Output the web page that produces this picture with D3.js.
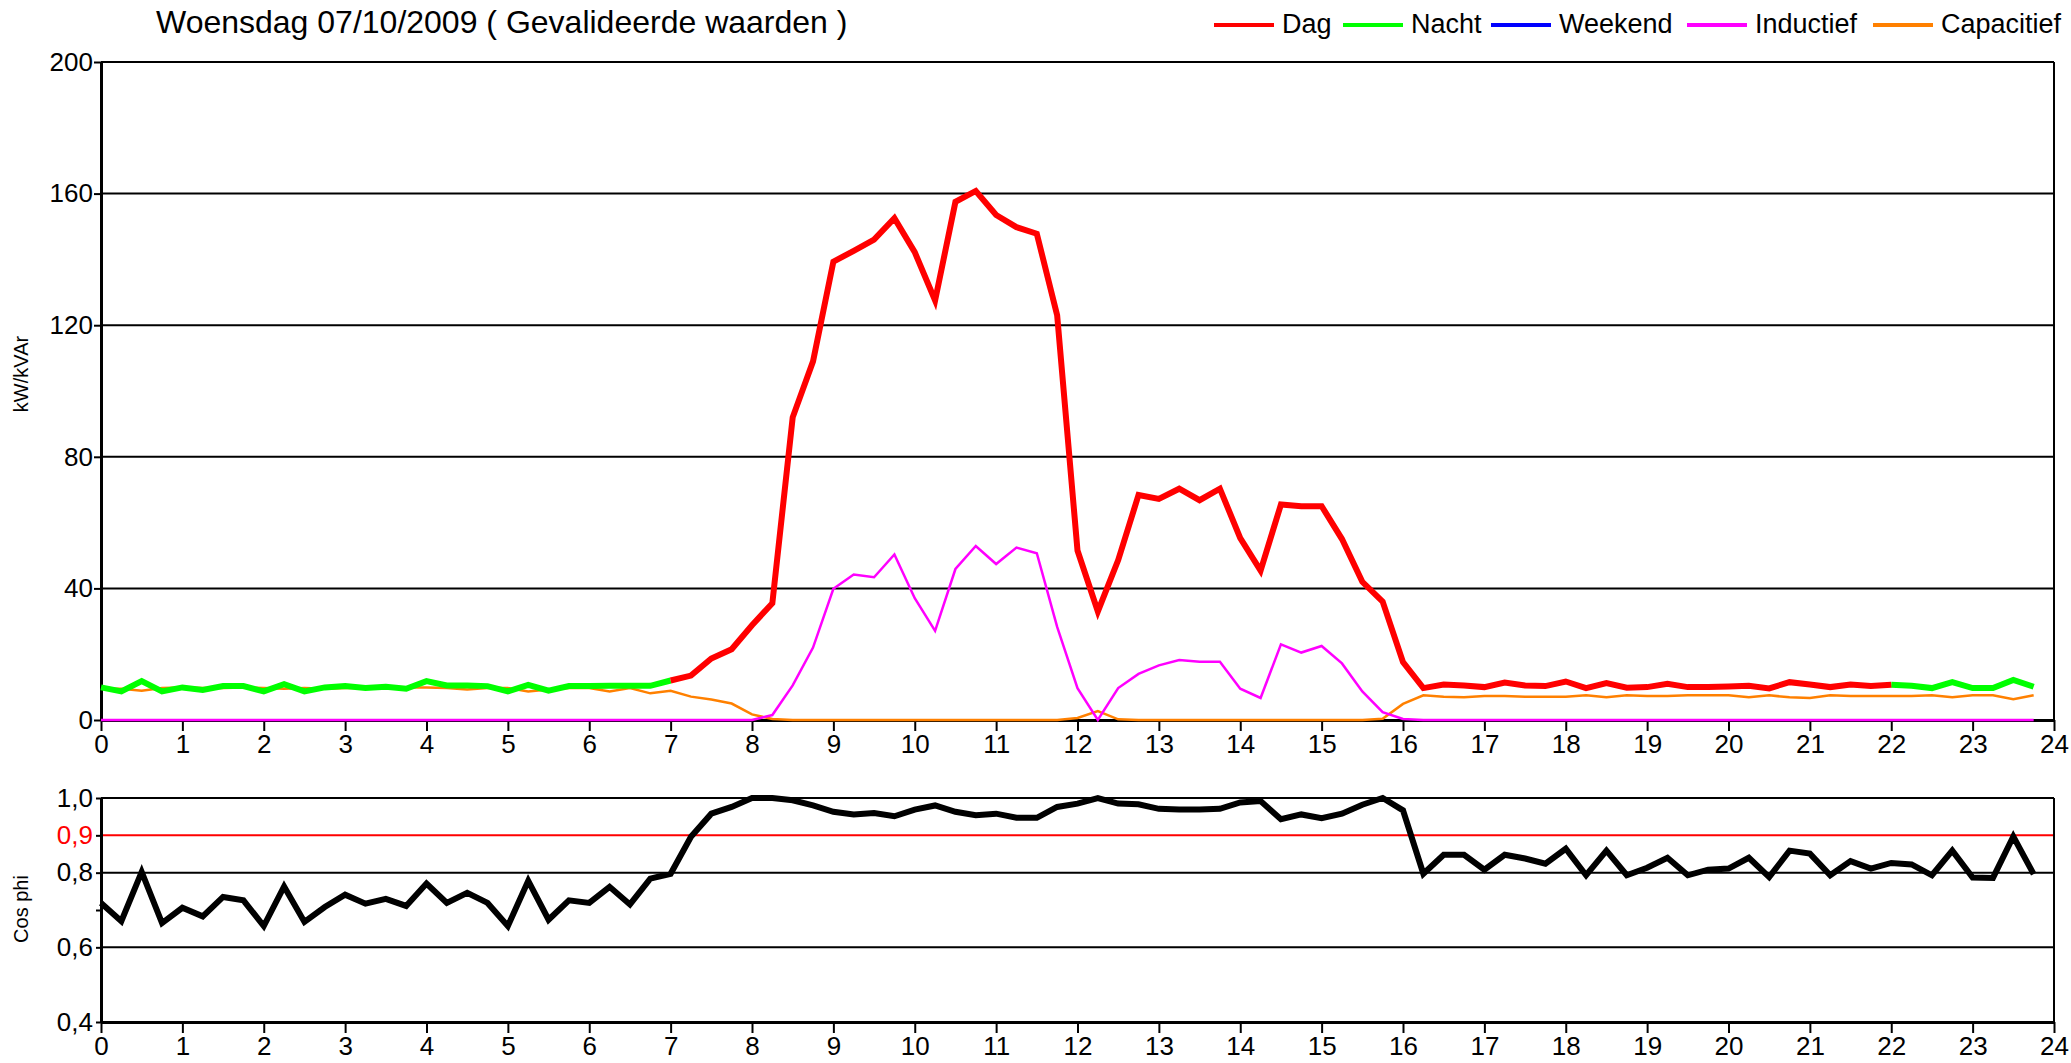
<!DOCTYPE html>
<html>
<head>
<meta charset="utf-8">
<script src="https://cdn.jsdelivr.net/npm/d3@7"></script>
<style>
  body { margin: 0; background: #fff; }
  svg { display: block; font-family: "Liberation Sans", Arial, sans-serif; }
</style>
</head>
<body>
<svg width="2071" height="1063"></svg>
<script>
// Data (one value per quarter hour, 0:00 -> 23:45):
const quarters = d3.range(0, 24, 0.25);
const hourTicks = d3.range(0, 25);
const powerTicks = [0, 40, 80, 120, 160, 200];
const cosTicks = [0.4, 0.6, 0.8, 0.9, 1.0];
const cosTickLabels = ["0,4", "0,6", "0,8", "0,9", "1,0"];

const power = [
  9.9, 8.7, 11.8, 8.7, 9.9, 9.1, 10.3, 10.3, 8.7, 10.9, 8.7, 9.9,
  10.3, 9.7, 10.1, 9.5, 11.8, 10.5, 10.5, 10.3, 8.7, 10.7, 8.9, 10.3,
  10.3, 10.4, 10.4, 10.4, 12.0, 13.5, 18.7, 21.5, 28.8, 35.5, 92, 109,
  139.3, 142.6, 146, 152.5, 142.2, 127.5, 157.5, 160.8, 153.5, 149.8, 147.8, 123,
  51.5, 33, 48.6, 68.4, 67.2, 70.3, 66.8, 70.3, 55.3, 45.4, 65.5, 65,
  65, 55, 42, 36, 17.6, 9.7, 10.8, 10.5, 10, 11.4, 10.5, 10.3,
  11.7, 9.7, 11.2, 9.8, 10, 11, 10, 10, 10.2, 10.4, 9.6, 11.5,
  10.8, 10, 10.8, 10.3, 10.7, 10.4, 9.7, 11.5, 9.7, 9.7, 12.2, 10.1
];
const inductief = [
  0, 0, 0, 0, 0, 0, 0, 0, 0, 0, 0, 0,
  0, 0, 0, 0, 0, 0, 0, 0, 0, 0, 0, 0,
  0, 0, 0, 0, 0, 0, 0, 0, 0, 1.5, 10.5, 22,
  39.9, 44.2, 43.4, 50.3, 37, 27.1, 45.9, 52.9, 47.4, 52.4, 50.7, 28.3,
  9.7, 0, 9.7, 14, 16.6, 18.2, 17.7, 17.7, 9.5, 6.7, 23, 20.5,
  22.5, 17.2, 8.7, 2.4, 0.3, 0, 0, 0, 0, 0, 0, 0,
  0, 0, 0, 0, 0, 0, 0, 0, 0, 0, 0, 0,
  0, 0, 0, 0, 0, 0, 0, 0, 0, 0, 0, 0
];
const capacitief = [
  9.5, 9.5, 8.9, 9.7, 9.9, 9.7, 9.7, 9.9, 9.7, 9.5, 9.7, 9.5,
  9.7, 9.7, 9.7, 9.9, 9.9, 9.7, 9.3, 9.7, 9.7, 8.7, 9.3, 9.7,
  9.7, 8.7, 9.7, 8.1, 8.9, 7.1, 6.2, 5.0, 1.7, 0.3, 0, 0,
  0, 0, 0, 0, 0, 0, 0, 0, 0, 0, 0, 0,
  0.6, 2.7, 0.2, 0, 0, 0, 0, 0, 0, 0, 0, 0,
  0, 0, 0, 0.4, 4.9, 7.5, 7.1, 6.9, 7.3, 7.3, 7.1, 7.1,
  7.1, 7.5, 6.9, 7.5, 7.3, 7.3, 7.5, 7.5, 7.5, 6.9, 7.5, 6.9,
  6.7, 7.5, 7.3, 7.3, 7.3, 7.3, 7.5, 6.9, 7.5, 7.5, 6.3, 7.5
];
const cosPhi = [
  0.719, 0.670, 0.802, 0.665, 0.706, 0.683, 0.735, 0.726, 0.657, 0.763, 0.668, 0.708,
  0.741, 0.717, 0.730, 0.711, 0.771, 0.719, 0.746, 0.719, 0.657, 0.778, 0.674, 0.726,
  0.719, 0.762, 0.715, 0.784, 0.797, 0.896, 0.958, 0.976, 1.0, 1.0, 0.994, 0.980,
  0.963, 0.956, 0.960, 0.951, 0.969, 0.980, 0.963, 0.954, 0.958, 0.947, 0.947, 0.976,
  0.985, 1.0, 0.985, 0.983, 0.971, 0.969, 0.969, 0.971, 0.988, 0.992, 0.943, 0.956,
  0.946, 0.958, 0.982, 1.0, 0.967, 0.797, 0.848, 0.848, 0.808, 0.848, 0.838, 0.824,
  0.864, 0.793, 0.859, 0.793, 0.813, 0.840, 0.793, 0.808, 0.811, 0.840, 0.788, 0.859,
  0.851, 0.793, 0.831, 0.811, 0.826, 0.822, 0.793, 0.859, 0.787, 0.786, 0.897, 0.796
];
// day tariff runs from 7:00 to 22:00
const dayStart = 7, dayEnd = 22;

const legendNames = ["Dag", "Nacht", "Weekend", "Inductief", "Capacitief"];
const legendColors = ["#ff0000", "#00ff00", "#0000ff", "#ff00ff", "#ff8000"];
const legendX = [1214, 1343, 1491, 1687, 1873]; // start of each legend swatch

// ----------------MAIN-------------------
const svg = d3.select("svg");
const left = 101, right = 2054;

const x = d3.scaleLinear().domain([0, 24]).range([left, right]);
const y = d3.scaleLinear().domain([0, 200]).range([720, 62]);
const yCos = d3.scaleLinear().domain([0.4, 1.0]).range([1022, 798]);

// Title:
svg.append("text")
  .attr("x", 156).attr("y", 33)
  .attr("font-size", 32)
  .text("Woensdag 07/10/2009 ( Gevalideerde waarden )");

// Legend:
legendNames.forEach((name, i) => {
  svg.append("line")
    .attr("x1", legendX[i]).attr("x2", legendX[i] + 60)
    .attr("y1", 25).attr("y2", 25)
    .attr("stroke", legendColors[i]).attr("stroke-width", 4);
  svg.append("text")
    .attr("x", legendX[i] + 68).attr("y", 33)
    .attr("font-size", 27)
    .text(name);
});

// Top chart gridlines + frame:
svg.append("g").selectAll("line")
  .data(powerTicks.slice(1))
  .enter().append("line")
    .attr("x1", left).attr("x2", right)
    .attr("y1", d => y(d)).attr("y2", d => y(d))
    .attr("stroke", "#000").attr("stroke-width", 2);
svg.append("line")
  .attr("x1", right).attr("x2", right)
  .attr("y1", y(200)).attr("y2", y(0))
  .attr("stroke", "#000").attr("stroke-width", 2);

// Top axes:
const xAxisTop = svg.append("g")
  .attr("transform", `translate(0,${y(0)})`)
  .call(d3.axisBottom(x).tickValues(hourTicks).tickSize(11).tickSizeOuter(0).tickPadding(4));
const yAxisTop = svg.append("g")
  .attr("transform", `translate(${left},0)`)
  .call(d3.axisLeft(y).tickValues(powerTicks).tickSize(7).tickSizeOuter(0).tickPadding(1));

svg.append("text")
  .attr("transform", `translate(28,374) rotate(-90)`)
  .attr("text-anchor", "middle")
  .attr("font-size", 20)
  .text("kW/kVAr");

// Power lines:
const line = d3.line()
  .x(d => x(d[0]))
  .y(d => y(d[1]));
const pts = arr => quarters.map((q, i) => [q, arr[i]]);

svg.append("path")
  .datum(pts(capacitief))
  .attr("fill", "none").attr("stroke", legendColors[4]).attr("stroke-width", 2.5)
  .attr("d", line);
svg.append("path")
  .datum(pts(inductief))
  .attr("fill", "none").attr("stroke", legendColors[3]).attr("stroke-width", 2.5)
  .attr("d", line);

const kw = pts(power);
const nightA = kw.filter(d => d[0] <= dayStart);
const day = kw.filter(d => d[0] >= dayStart && d[0] <= dayEnd);
const nightB = kw.filter(d => d[0] >= dayEnd);
[[nightA, legendColors[1]], [nightB, legendColors[1]], [day, legendColors[0]]].forEach(s => {
  svg.append("path")
    .datum(s[0])
    .attr("fill", "none").attr("stroke", s[1]).attr("stroke-width", 6)
    .attr("stroke-linejoin", "miter")
    .attr("d", line);
});

// Bottom chart (cos phi):
svg.append("g").selectAll("line")
  .data([0.6, 0.8, 1.0])
  .enter().append("line")
    .attr("x1", left).attr("x2", right)
    .attr("y1", d => yCos(d)).attr("y2", d => yCos(d))
    .attr("stroke", "#000").attr("stroke-width", 2);
svg.append("line")
  .attr("x1", left).attr("x2", right)
  .attr("y1", yCos(0.9)).attr("y2", yCos(0.9))
  .attr("stroke", "#ff0000").attr("stroke-width", 2);
svg.append("line")
  .attr("x1", right).attr("x2", right)
  .attr("y1", yCos(1.0)).attr("y2", yCos(0.4))
  .attr("stroke", "#000").attr("stroke-width", 2);

const xAxisBot = svg.append("g")
  .attr("transform", `translate(0,${yCos(0.4)})`)
  .call(d3.axisBottom(x).tickValues(hourTicks).tickSize(11).tickSizeOuter(0).tickPadding(4));
const yAxisBot = svg.append("g")
  .attr("transform", `translate(${left},0)`)
  .call(d3.axisLeft(yCos).tickValues([0.4, 0.6, 0.7, 0.8, 0.9, 1.0]).tickSize(5).tickSizeOuter(0).tickPadding(3)
    .tickFormat(d => {
      const k = cosTicks.findIndex(c => Math.abs(c - d) < 1e-6);
      return k < 0 ? "" : cosTickLabels[k];
    }));
yAxisBot.selectAll(".tick text")
  .attr("fill", d => Math.abs(d - 0.9) < 1e-6 ? "#ff0000" : "#000");

svg.append("text")
  .attr("transform", `translate(28,909) rotate(-90)`)
  .attr("text-anchor", "middle")
  .attr("font-size", 20)
  .text("Cos phi");

const cosLine = d3.line()
  .x((d, i) => x(quarters[i]))
  .y(d => yCos(d));
svg.append("path")
  .datum(cosPhi)
  .attr("fill", "none").attr("stroke", "#000").attr("stroke-width", 6)
  .attr("stroke-linejoin", "miter")
  .attr("d", cosLine);

// axis styling:
[xAxisTop, yAxisTop, xAxisBot, yAxisBot].forEach(g => {
  g.select(".domain").attr("stroke", "#000").attr("stroke-width", 3);
  g.selectAll(".tick line").attr("stroke", "#000").attr("stroke-width", 2);
  g.selectAll(".tick text").attr("font-size", 26).attr("font-family", "Liberation Sans, Arial, sans-serif");
});
xAxisTop.select(".domain").lower();
</script>
</body>
</html>
